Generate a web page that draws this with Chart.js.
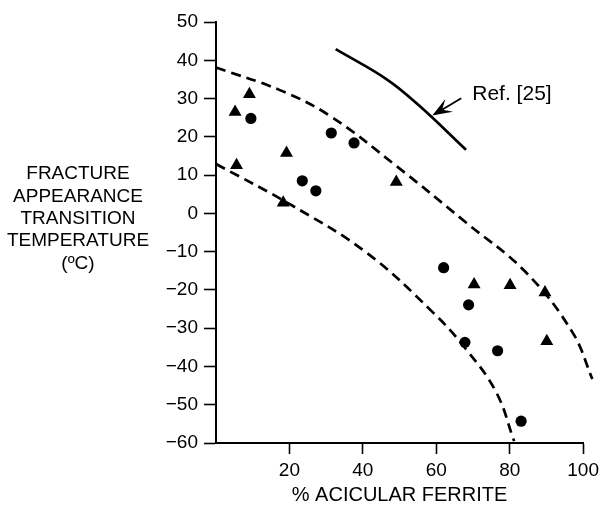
<!DOCTYPE html>
<html><head><meta charset="utf-8">
<script src="https://cdn.jsdelivr.net/npm/chart.js@4.4.1/dist/chart.umd.min.js"></script>
<style>html,body{margin:0;padding:0;background:#fff;overflow:hidden}</style>
</head><body>
<canvas id="c" width="604" height="513"></canvas>
<script>
// ---- data ----
const xTickValues = [0, 20, 40, 60, 80, 100];
const yTickValues = [-60, -50, -40, -30, -20, -10, 0, 10, 20, 30, 40, 50];

const triangleX = [5.2, 9.1, 5.6, 19.2, 18.3, 49.1, 70.3, 80.1, 89.6, 90.1];
const triangleY = [26.5, 31.1, 12.6, 15.8, 2.8, 8.2, -18.6, -18.8, -20.7, -33.4];

const circleX = [9.5, 31.4, 37.6, 23.5, 27.2, 62.0, 68.8, 67.8, 76.7, 83.1];
const circleY = [24.8, 21.0, 18.4, 8.5, 5.9, -14.2, -23.9, -33.7, -35.9, -54.3];

const upperBoundX = [0, 17.4, 31, 49.1, 68.1, 84.4, 97.1, 102.5];
const upperBoundY = [38.1, 32.2, 25.5, 12.4, -2.4, -15.4, -31.1, -43.3];

const lowerBoundX = [0, 20.1, 40.9, 59, 68.1, 76.3, 81.2];
const lowerBoundY = [12.9, 2.4, -10.2, -25.8, -35.5, -46.7, -59.5];

const ref25X = [32.6, 46.4, 55.4, 68.1];
const ref25Y = [42.9, 35.1, 28.1, 16.6];

const yTitleLines = ['FRACTURE', 'APPEARANCE', 'TRANSITION', 'TEMPERATURE', '(\u00BAC)'];
const xTitle = '% ACICULAR FERRITE';
const refLabel = 'Ref. [25]';

// ---- helpers ----
const pts = (xs, ys) => xs.map((x, i) => ({x, y: ys[i]}));
const FONT = '"Liberation Sans", Arial, sans-serif';
const INK = '#000';

const yTitlePlugin = {
  id: 'yTitle',
  afterDraw(chart) {
    const ctx = chart.ctx;
    ctx.save();
    ctx.fillStyle = INK;
    ctx.font = '19px ' + FONT;
    ctx.textAlign = 'center';
    ctx.textBaseline = 'middle';
    yTitleLines.forEach((t, i) => ctx.fillText(t, 78, 174 + i * 22.4));
    ctx.restore();
  }
};

const refPlugin = {
  id: 'refNote',
  afterDatasetsDraw(chart, args, opts) {
    const {ctx, scales: {x, y}} = chart;
    const tx = x.getPixelForValue(opts.tail[0]), ty = y.getPixelForValue(opts.tail[1]);
    const hx = x.getPixelForValue(opts.tip[0]), hy = y.getPixelForValue(opts.tip[1]);
    ctx.save();
    ctx.strokeStyle = INK; ctx.fillStyle = INK; ctx.lineWidth = 1.8;
    ctx.beginPath(); ctx.moveTo(tx, ty); ctx.lineTo(hx, hy); ctx.stroke();
    const a = Math.atan2(ty - hy, tx - hx);
    const L = 14, s = 0.36;
    ctx.beginPath();
    ctx.moveTo(hx, hy);
    ctx.lineTo(hx + L * Math.cos(a + s), hy + L * Math.sin(a + s));
    ctx.lineTo(hx + L * 0.55 * Math.cos(a), hy + L * 0.55 * Math.sin(a));
    ctx.lineTo(hx + L * Math.cos(a - s), hy + L * Math.sin(a - s));
    ctx.closePath();
    ctx.fill();
    ctx.stroke();
    ctx.font = '21px ' + FONT;
    ctx.textAlign = 'left';
    ctx.textBaseline = 'middle';
    ctx.fillText(refLabel, x.getPixelForValue(opts.label[0]), y.getPixelForValue(opts.label[1]));
    ctx.restore();
  }
};

const curve = (xs, ys, dash) => ({
  type: 'line',
  data: pts(xs, ys),
  borderColor: INK,
  borderWidth: 2.7,
  borderDash: dash,
  pointRadius: 0,
  tension: 0.4,
  fill: false,
  clip: false
});

new Chart(document.getElementById('c'), {
  type: 'scatter',
  data: {
    datasets: [
      {label: 'triangles', data: pts(triangleX, triangleY), pointStyle: 'triangle', pointRadius: 7.5,
       backgroundColor: INK, borderColor: INK, borderWidth: 0, clip: false},
      {label: 'circles', data: pts(circleX, circleY), pointStyle: 'circle', pointRadius: 5.6,
       backgroundColor: INK, borderColor: INK, borderWidth: 0, clip: false},
      Object.assign(curve(upperBoundX, upperBoundY, [10, 6]), {label: 'upper'}),
      Object.assign(curve(lowerBoundX, lowerBoundY, [10, 6]), {label: 'lower'}),
      Object.assign(curve(ref25X, ref25Y, []), {label: 'Ref. [25]'})
    ]
  },
  options: {
    responsive: false,
    animation: false,
    devicePixelRatio: 1,
    layout: {padding: {left: 0, right: 20, top: 22, bottom: 0}},
    plugins: {
      legend: {display: false},
      tooltip: {enabled: false},
      refNote: {label: [69.8, 31.1], tail: [66.8, 30.1], tip: [59.5, 25.9]}
    },
    scales: {
      x: {
        type: 'linear', min: 0, max: 100,
        afterBuildTicks: s => { s.ticks = xTickValues.map(v => ({value: v})); },
        afterFit: s => { s.height = 70; },
        ticks: {color: INK, font: {family: FONT, size: 19}, padding: 5,
                callback: v => v === 0 ? '' : String(v), maxRotation: 0, autoSkip: false},
        grid: {drawOnChartArea: false, drawTicks: true, tickLength: 11, tickWidth: 1.6,
               tickColor: c => (c.tick && c.tick.value === 0) ? 'rgba(0,0,0,0)' : INK},
        border: {display: true, color: INK, width: 2},
        title: {display: true, text: xTitle, color: INK, font: {family: FONT, size: 20, lineHeight: 1.2},
                padding: {top: 0, bottom: 6}}
      },
      y: {
        type: 'linear', min: -60, max: 50,
        afterBuildTicks: s => { s.ticks = yTickValues.map(v => ({value: v})); },
        afterFit: s => { s.width = 216; },
        ticks: {color: INK, font: {family: FONT, size: 19}, padding: 6, autoSkip: false,
                callback: v => v < 0 ? '\u2212' + Math.abs(v) : String(v)},
        grid: {drawOnChartArea: false, drawTicks: true, tickLength: 12, tickWidth: 1.6, tickColor: INK},
        border: {display: true, color: INK, width: 2}
      }
    }
  },
  plugins: [yTitlePlugin, refPlugin]
});
</script>
</body></html>
